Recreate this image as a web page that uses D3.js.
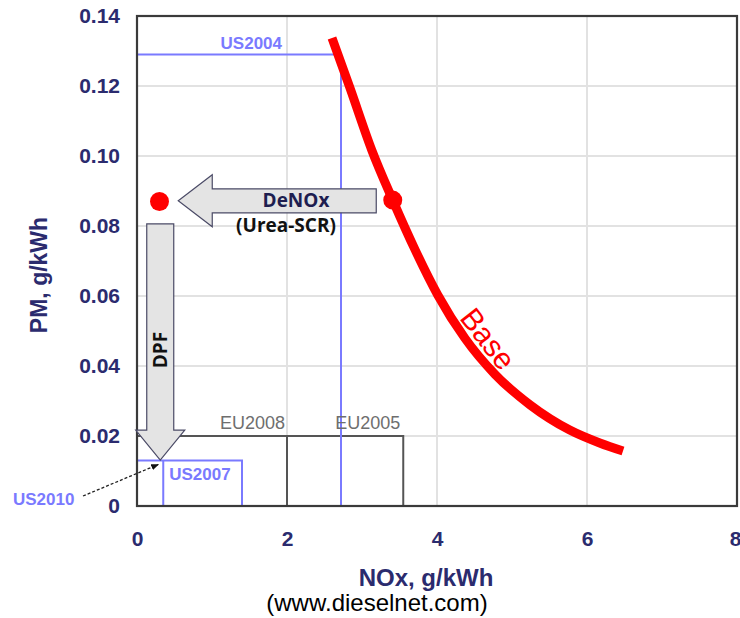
<!DOCTYPE html>
<html>
<head>
<meta charset="utf-8">
<script src="https://cdn.jsdelivr.net/npm/d3@7"></script>
<style>
  html, body { margin: 0; padding: 0; background: #fff; }
  svg { display: block; }
</style>
</head>
<body>
<svg id="chart" width="740" height="618"></svg>
<script>
// ---- data ----
const xTicks = [0, 2, 4, 6, 8];
const xTickLabels = ["0", "2", "4", "6", "8"];
const yTicks = [0, 0.02, 0.04, 0.06, 0.08, 0.10, 0.12, 0.14];
const yTickLabels = ["0", "0.02", "0.04", "0.06", "0.08", "0.10", "0.12", "0.14"];

// Base engine NOx-PM trade-off curve
const baseNOx = [2.60, 2.84, 3.13, 3.41, 3.71, 4.01, 4.37, 4.77, 5.24, 5.77, 6.17, 6.48];
const basePM  = [0.1337, 0.1194, 0.1017, 0.0874, 0.0731, 0.0603, 0.0480, 0.0377, 0.0289, 0.0217, 0.0180, 0.0157];

// red operating points
const dotNOx = [0.30, 3.41];
const dotPM  = [0.0870, 0.0874];

// emission limit boxes
const limitNames = ["US2004", "EU2005", "EU2008", "US2007", "US2010"];
const limitNOx   = [2.72, 3.55, 2.0, 1.40, 0.35];
const limitPM    = [0.129, 0.02, 0.02, 0.013, 0.013];

// arrows (data units)
const denoxFrom = [3.19, 0.0872], denoxTo = [0.55, 0.0872];
const dpfFrom = [0.31, 0.0806], dpfTo = [0.31, 0.0131];

// ---- layout ----
const svg = d3.select("#chart");
const x = d3.scaleLinear().domain([0, 8]).range([137, 737]);
const y = d3.scaleLinear().domain([0, 0.14]).range([506, 16]);

const navy = "#2b2b6e";
const blue = "#7a7aff";
const grayTxt = "#6e6e6e";
const boxGray = "#555";

// gridlines
svg.append("g").selectAll("line.gx").data(xTicks.slice(1, -1)).join("line")
  .attr("x1", d => x(d)).attr("x2", d => x(d))
  .attr("y1", y(0)).attr("y2", y(0.14))
  .attr("stroke", "#e2e2e2").attr("stroke-width", 2);
svg.append("g").selectAll("line.gy").data(yTicks.slice(1, -1)).join("line")
  .attr("x1", x(0)).attr("x2", x(8))
  .attr("y1", d => y(d)).attr("y2", d => y(d))
  .attr("stroke", "#e2e2e2").attr("stroke-width", 2);

// axes (labels only)
const xAxis = d3.axisBottom(x).tickValues(xTicks).tickSize(0).tickPadding(25)
  .tickFormat((d, i) => xTickLabels[i]);
const gx = svg.append("g").attr("transform", `translate(0,${y(0)})`).call(xAxis);
gx.select(".domain").remove();
gx.selectAll("text").attr("fill", navy).attr("font-family", "Liberation Sans, Arial, sans-serif")
  .attr("font-weight", "bold").attr("font-size", 21)
  .attr("dx", (d, i) => i === xTicks.length - 1 ? -2 : 0);

const yAxis = d3.axisLeft(y).tickValues(yTicks).tickSize(0).tickPadding(17)
  .tickFormat((d, i) => yTickLabels[i]);
const gy = svg.append("g").attr("transform", `translate(${x(0)},0)`).call(yAxis);
gy.select(".domain").remove();
gy.selectAll("text").attr("fill", navy).attr("font-family", "Liberation Sans, Arial, sans-serif")
  .attr("font-weight", "bold").attr("font-size", 21);

// axis titles
svg.append("text").attr("x", 426).attr("y", 586).attr("text-anchor", "middle")
  .attr("font-family", "Liberation Sans, Arial, sans-serif").attr("font-weight", "bold")
  .attr("font-size", 24).attr("fill", navy).text("NOx, g/kWh");
svg.append("text").attr("transform", "translate(47,275) rotate(-90)").attr("text-anchor", "middle")
  .attr("font-family", "Liberation Sans, Arial, sans-serif").attr("font-weight", "bold")
  .attr("font-size", 23).attr("fill", navy).text("PM, g/kWh");
svg.append("text").attr("x", 377).attr("y", 611).attr("text-anchor", "middle")
  .attr("font-family", "Liberation Sans, Arial, sans-serif")
  .attr("font-size", 24).attr("fill", "#000").text("(www.dieselnet.com)");

// EU boxes (gray)
const lim = name => limitNames.indexOf(name);
const eu08 = lim("EU2008"), eu05 = lim("EU2005");
svg.append("path")
  .attr("d", `M${x(0)},${y(limitPM[eu05])}H${x(limitNOx[eu05])}V${y(0)}`
    + `M${x(limitNOx[eu08])},${y(limitPM[eu08])}V${y(0)}`)
  .attr("fill", "none").attr("stroke", boxGray).attr("stroke-width", 2);

// US boxes (blue)
const us04 = lim("US2004"), us07 = lim("US2007"), us10 = lim("US2010");
svg.append("path")
  .attr("d", `M${x(0)},${y(limitPM[us04])}H${x(limitNOx[us04])}V${y(0)}`
    + `M${x(0)},${y(limitPM[us07])}H${x(limitNOx[us07])}V${y(0)}`
    + `M${x(limitNOx[us10])},${y(limitPM[us10])}V${y(0)}`)
  .attr("fill", "none").attr("stroke", blue).attr("stroke-width", 2);

// frame
svg.append("rect").attr("x", x(0)).attr("y", y(0.14))
  .attr("width", x(8) - x(0)).attr("height", y(0) - y(0.14))
  .attr("fill", "none").attr("stroke", "#3a3a3a").attr("stroke-width", 2.2);

// limit labels
const lblFont = "Liberation Sans, Arial, sans-serif";
svg.append("text").attr("x", x(limitNOx[us04]) - 59).attr("y", y(limitPM[us04]) - 6)
  .attr("text-anchor", "end").attr("font-family", lblFont).attr("font-weight", "bold")
  .attr("font-size", 17).attr("fill", blue).text("US2004");
svg.append("text").attr("x", x(limitNOx[eu08]) - 2).attr("y", y(limitPM[eu08]) - 7)
  .attr("text-anchor", "end").attr("font-family", lblFont)
  .attr("font-size", 18).attr("fill", grayTxt).text("EU2008");
svg.append("text").attr("x", x(limitNOx[eu05]) - 3).attr("y", y(limitPM[eu05]) - 7)
  .attr("text-anchor", "end").attr("font-family", lblFont)
  .attr("font-size", 18).attr("fill", grayTxt).text("EU2005");
svg.append("text").attr("x", x(limitNOx[us10]) + 6).attr("y", y(limitPM[us07]) + 19)
  .attr("font-family", lblFont).attr("font-weight", "bold")
  .attr("font-size", 17).attr("fill", blue).text("US2007");
svg.append("text").attr("x", 13).attr("y", 505)
  .attr("font-family", lblFont).attr("font-weight", "bold")
  .attr("font-size", 17).attr("fill", blue).text("US2010");

// dashed pointer for US2010
svg.append("defs").append("marker").attr("id", "ah").attr("viewBox", "0 0 10 10")
  .attr("refX", 9).attr("refY", 5).attr("markerWidth", 6).attr("markerHeight", 6)
  .attr("orient", "auto").append("path").attr("d", "M0,1L10,5L0,9Z").attr("fill", "#111");
svg.append("line").attr("x1", 83).attr("y1", 496)
  .attr("x2", x(limitNOx[us10]) - 5).attr("y2", y(limitPM[us10]) + 4)
  .attr("stroke", "#222").attr("stroke-width", 1.3).attr("stroke-dasharray", "3,2")
  .attr("marker-end", "url(#ah)");

// block arrows
const arrowFill = "#e4e4e4", arrowStroke = "#4a4a66";
function hArrow(from, to, shaftHalf, headHalf, headLen) {
  const x0 = x(from[0]), x1 = x(to[0]), yc = y(from[1]);
  const xb = x1 + headLen;
  return `M${x0},${yc - shaftHalf}H${xb}V${yc - headHalf}L${x1},${yc}L${xb},${yc + headHalf}V${yc + shaftHalf}H${x0}Z`;
}
function vArrow(from, to, shaftHalf, headHalf, headLen) {
  const y0 = y(from[1]), y1 = y(to[1]), xc = x(from[0]);
  const yb = y1 - headLen;
  return `M${xc - shaftHalf},${y0}V${yb}H${xc - headHalf}L${xc},${y1}L${xc + headHalf},${yb}H${xc + shaftHalf}V${y0}Z`;
}
svg.append("path").attr("d", vArrow(dpfFrom, dpfTo, 13.5, 24.5, 30))
  .attr("fill", arrowFill).attr("stroke", arrowStroke).attr("stroke-width", 1.2);
svg.append("path").attr("d", hArrow(denoxFrom, denoxTo, 12, 26, 34))
  .attr("fill", arrowFill).attr("stroke", arrowStroke).attr("stroke-width", 1.2);

svg.append("text").attr("x", 296).attr("y", 207).attr("text-anchor", "middle")
  .attr("font-family", "Open Sans, sans-serif").attr("font-weight", "bold")
  .attr("font-size", 19).attr("fill", "#1e1e50").text("DeNOx");
svg.append("text").attr("x", 286).attr("y", 232).attr("text-anchor", "middle")
  .attr("font-family", "Open Sans, sans-serif").attr("font-weight", "bold")
  .attr("font-size", 19).attr("fill", "#111").text("(Urea-SCR)");
svg.append("text").attr("transform", `translate(${x(dpfFrom[0]) + 7},350) rotate(-90)`)
  .attr("text-anchor", "middle")
  .attr("font-family", "Open Sans, sans-serif").attr("font-weight", "bold")
  .attr("font-size", 19).attr("fill", "#111").text("DPF");

// base curve
const basePts = baseNOx.map((v, i) => [v, basePM[i]]);
svg.append("path").datum(basePts)
  .attr("d", d3.line().x(d => x(d[0])).y(d => y(d[1])).curve(d3.curveMonotoneX))
  .attr("fill", "none").attr("stroke", "#ff0000").attr("stroke-width", 9);

svg.append("text").attr("transform", `translate(${x(4.68)},${y(0.0478)}) rotate(52)`)
  .attr("text-anchor", "middle").attr("dy", "0.35em")
  .attr("font-family", lblFont).attr("font-size", 30).attr("fill", "#ff0000").text("Base");

// red points
svg.append("g").selectAll("circle").data(dotNOx).join("circle")
  .attr("cx", d => x(d)).attr("cy", (d, i) => y(dotPM[i]))
  .attr("r", 9.5).attr("fill", "#ff0000");
</script>
</body>
</html>
